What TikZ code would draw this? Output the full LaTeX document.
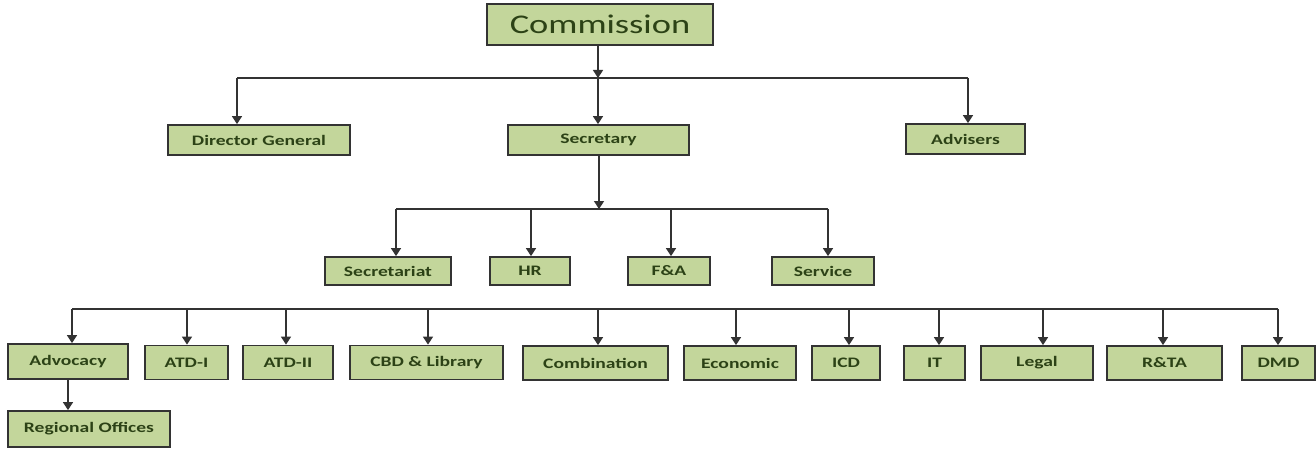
\documentclass[tikz,border=0pt]{standalone}
\usepackage{fontspec}
\setmainfont{Carlito}[FakeStretch=1.35]
\usetikzlibrary{arrows.meta}
\definecolor{boxfill}{HTML}{C3D69B}
\definecolor{boxtext}{HTML}{2C4216}
\definecolor{lincol}{HTML}{333333}
\tikzset{
  orgbox/.style={draw=lincol, line width=1.8pt, fill=boxfill, text=boxtext,
    font=\bfseries\fontsize{14.5}{16}\selectfont, inner sep=0pt, anchor=center},
  topbox/.style={orgbox, font=\fontsize{27}{30}\selectfont},
  conn/.style={draw=lincol, line width=1.6pt},
  arr/.style={conn, -{Triangle[width=10pt,length=8pt]}}
}
\begin{document}
\begin{tikzpicture}[x=1pt,y=-1pt]
\useasboundingbox (0,0) rectangle (1316,449);
% level 1
\node[topbox, minimum width=226pt, minimum height=41pt] (comm) at (600,24.5) {Commission};
% level 2
\node[orgbox, minimum width=182pt, minimum height=30pt] (dg) at (259,140) {Director General};
\node[orgbox, minimum width=181pt, minimum height=30pt] (sec) at (598.5,140) {Secretary};
\node[orgbox, minimum width=119pt, minimum height=30pt] (adv) at (965.5,139) {Advisers};
% level 3
\node[orgbox, minimum width=126pt, minimum height=28pt] (sect) at (388,271) {Secretariat};
\node[orgbox, minimum width=80pt, minimum height=28pt] (hr) at (530,271) {HR};
\node[orgbox, minimum width=82pt, minimum height=28pt] (fa) at (669,271) {F\&A};
\node[orgbox, minimum width=102pt, minimum height=28pt] (serv) at (823,271) {Service};
% level 4
\node[orgbox, minimum width=120pt, minimum height=35pt] (advo) at (68,361.5) {Advocacy};
\node[orgbox, minimum width=83pt, minimum height=34pt] (atda) at (186.5,362.5) {ATD-I};
\node[orgbox, minimum width=90pt, minimum height=34pt] (atdb) at (288,362.5) {ATD-II};
\node[orgbox, minimum width=153pt, minimum height=34pt] (cbd) at (426.5,362.5) {CBD \& Library};
\node[orgbox, minimum width=145pt, minimum height=34pt] (comb) at (595.5,363) {Combination};
\node[orgbox, minimum width=112pt, minimum height=34pt] (econ) at (740,363) {Economic};
\node[orgbox, minimum width=68pt, minimum height=34pt] (icd) at (846,363) {ICD};
\node[orgbox, minimum width=61pt, minimum height=34pt] (it) at (934.5,363) {IT};
\node[orgbox, minimum width=112pt, minimum height=34pt] (legal) at (1037,363) {Legal};
\node[orgbox, minimum width=115pt, minimum height=34pt] (rta) at (1164.5,363) {R\&TA};
\node[orgbox, minimum width=73pt, minimum height=34pt] (dmd) at (1278.5,363) {DMD};
\node[orgbox, minimum width=162pt, minimum height=36pt] (reg) at (89,429) {Regional Offices};
% connectors level 1 -> 2
\coordinate (b1) at (598,78);
\coordinate (b1l) at (237,78);
\coordinate (b1r) at (968,78);
\draw[arr] (b1 |- comm.south) -- (b1);
\draw[conn] (b1l) -- (b1r);
\draw[arr] (b1l) -- (b1l |- dg.north);
\draw[arr] (b1) -- (b1 |- sec.north);
\draw[arr] (b1r) -- (b1r |- adv.north);
% connectors secretary -> level 3
\coordinate (b2) at (599,209);
\coordinate (b2l) at (396,209);
\coordinate (b2r) at (828,209);
\draw[arr] (b2 |- sec.south) -- (b2);
\draw[conn] (b2l) -- (b2r);
\draw[arr] (b2l) -- (b2l |- sect.north);
\draw[arr] (531,209) -- (531,0 |- hr.north);
\draw[arr] (671,209) -- (671,0 |- fa.north);
\draw[arr] (b2r) -- (b2r |- serv.north);
% level 4 bus
\coordinate (b3l) at (72,309);
\coordinate (b3r) at (1278,309);
\draw[conn] (b3l) -- (b3r);
\draw[arr] (b3l) -- (b3l |- advo.north);
\draw[arr] (187,309) -- (187,0 |- atda.north);
\draw[arr] (286,309) -- (286,0 |- atdb.north);
\draw[arr] (428,309) -- (428,0 |- cbd.north);
\draw[arr] (598,309) -- (598,0 |- comb.north);
\draw[arr] (736,309) -- (736,0 |- econ.north);
\draw[arr] (849,309) -- (849,0 |- icd.north);
\draw[arr] (939,309) -- (939,0 |- it.north);
\draw[arr] (1043,309) -- (1043,0 |- legal.north);
\draw[arr] (1163,309) -- (1163,0 |- rta.north);
\draw[arr] (b3r) -- (b3r |- dmd.north);
% advocacy -> regional
\draw[arr] (advo.south) -- (reg.north -| advo.south);
\end{tikzpicture}
\end{document}
